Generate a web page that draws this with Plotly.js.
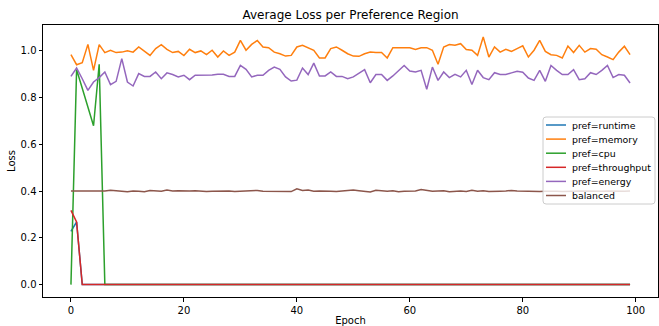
<!DOCTYPE html>
<html>
<head>
<meta charset="utf-8">
<script src="https://cdn.plot.ly/plotly-3.0.1.min.js"></script>
<style>html,body{margin:0;padding:0;background:#fff;}#chart{width:659px;height:326px;}</style>
</head>
<body>
<div id="chart"></div>
<script>
const seriesNames = ["pref=runtime","pref=memory","pref=cpu","pref=throughput","pref=energy","balanced"];
const seriesColors = ["#1f77b4","#ff7f0e","#2ca02c","#d62728","#9467bd","#8c564b"];

const runtime = [0.228,0.268,0,0,0,0,0,0,0,0, 0,0,0,0,0,0,0,0,0,0, 0,0,0,0,0,0,0,0,0,0, 0,0,0,0,0,0,0,0,0,0, 0,0,0,0,0,0,0,0,0,0, 0,0,0,0,0,0,0,0,0,0, 0,0,0,0,0,0,0,0,0,0, 0,0,0,0,0,0,0,0,0,0, 0,0,0,0,0,0,0,0,0,0, 0,0,0,0,0,0,0,0,0,0];
const memory = [0.984,0.941,0.950,1.028,0.917,1.027,0.993,1.003,0.993,0.995,
  1.001,0.995,1.017,1.000,0.981,1.010,1.027,1.007,0.993,0.998,
  0.980,1.007,0.993,1.000,0.984,1.003,0.974,1.000,0.981,0.995,
  1.045,1.003,1.028,1.045,1.017,1.014,0.995,0.988,0.978,0.981,
  1.017,1.024,1.013,1.003,0.970,0.970,1.010,1.017,1.003,0.988,
  0.978,0.977,0.988,0.995,0.993,0.993,0.970,1.014,1.014,1.014,
  1.014,1.006,1.014,1.014,1.003,0.943,1.017,1.027,1.024,1.031,
  1.006,1.003,0.981,1.060,0.974,1.017,0.995,1.007,0.998,1.010,
  1.022,0.974,1.003,1.045,0.998,0.984,0.981,0.970,1.021,0.993,
  1.024,0.995,1.010,1.007,0.984,0.974,0.963,0.995,1.020,0.984];
const cpu = [0,0.920,0.840,0.760,0.680,0.943,0,0,0,0, 0,0,0,0,0,0,0,0,0,0, 0,0,0,0,0,0,0,0,0,0, 0,0,0,0,0,0,0,0,0,0, 0,0,0,0,0,0,0,0,0,0, 0,0,0,0,0,0,0,0,0,0, 0,0,0,0,0,0,0,0,0,0, 0,0,0,0,0,0,0,0,0,0, 0,0,0,0,0,0,0,0,0,0, 0,0,0,0,0,0,0,0,0,0];
const throughput = [0.318,0.268,0,0,0,0,0,0,0,0, 0,0,0,0,0,0,0,0,0,0, 0,0,0,0,0,0,0,0,0,0, 0,0,0,0,0,0,0,0,0,0, 0,0,0,0,0,0,0,0,0,0, 0,0,0,0,0,0,0,0,0,0, 0,0,0,0,0,0,0,0,0,0, 0,0,0,0,0,0,0,0,0,0, 0,0,0,0,0,0,0,0,0,0, 0,0,0,0,0,0,0,0,0,0];
const energy = [0.891,0.927,0.881,0.831,0.867,0.886,0.910,0.856,0.870,0.967,
  0.867,0.850,0.903,0.891,0.891,0.910,0.881,0.906,0.899,0.889,
  0.896,0.877,0.896,0.896,0.896,0.897,0.900,0.900,0.891,0.891,
  0.938,0.921,0.889,0.896,0.896,0.917,0.931,0.921,0.889,0.871,
  0.875,0.927,0.899,0.948,0.893,0.893,0.910,0.891,0.891,0.881,
  0.889,0.903,0.920,0.864,0.899,0.899,0.874,0.893,0.917,0.938,
  0.914,0.910,0.917,0.836,0.931,0.874,0.910,0.886,0.900,0.889,
  0.917,0.856,0.917,0.886,0.877,0.907,0.899,0.899,0.906,0.913,
  0.909,0.884,0.874,0.917,0.870,0.938,0.917,0.899,0.899,0.920,
  0.877,0.881,0.907,0.899,0.917,0.938,0.886,0.899,0.896,0.863];
const balanced = [0.401,0.401,0.400,0.399,0.401,0.398,0.401,0.404,0.403,0.400,
  0.397,0.401,0.400,0.397,0.403,0.401,0.400,0.405,0.401,0.402,
  0.400,0.401,0.402,0.400,0.398,0.400,0.401,0.400,0.401,0.399,
  0.400,0.402,0.400,0.403,0.400,0.399,0.401,0.400,0.399,0.398,
  0.410,0.403,0.405,0.400,0.401,0.402,0.400,0.399,0.400,0.401,
  0.405,0.402,0.398,0.396,0.404,0.401,0.400,0.402,0.397,0.400,
  0.400,0.401,0.407,0.403,0.400,0.401,0.402,0.397,0.400,0.401,
  0.399,0.404,0.400,0.402,0.399,0.398,0.400,0.401,0.403,0.401,
  0.400,0.401,0.398,0.399,0.400,0.401,0.400,0.399,0.401,0.400,
  0.401,0.400,0.399,0.401,0.400,0.401,0.400,0.401,0.400,0.401];

const seriesValues = [runtime, memory, cpu, throughput, energy, balanced];
const xTicks = [0,20,40,60,80,100];
const yTicks = [0.0,0.2,0.4,0.6,0.8,1.0];

const FONT = "DejaVu Sans, Liberation Sans, sans-serif";

const traces = seriesValues.map((vals, k) => ({
  type: "scatter", mode: "lines",
  x: vals.map((_, i) => i), y: vals,
  name: seriesNames[k],
  line: {color: seriesColors[k], width: 1.5},
  showlegend: false, hoverinfo: "skip"
}));

// plot area in pixels
const L = 43, R = 658, T = 25, B = 297;
const px = v => (v - L) / (R - L);
const py = v => (B - v) / (B - T);

const bx0 = px(543), bx1 = px(655), by0 = py(204), by1 = py(117);
const rx = 3 / (R - L), ry = 3 / (B - T);
const shapes = [{
  type: "path", xref: "paper", yref: "paper",
  path: `M ${bx0+rx},${by1} L ${bx1-rx},${by1} Q ${bx1},${by1} ${bx1},${by1-ry} L ${bx1},${by0+ry} Q ${bx1},${by0} ${bx1-rx},${by0} L ${bx0+rx},${by0} Q ${bx0},${by0} ${bx0},${by0+ry} L ${bx0},${by1-ry} Q ${bx0},${by1} ${bx0+rx},${by1} Z`,
  line: {color: "#cccccc", width: 1}, fillcolor: "rgba(255,255,255,0.8)", layer: "above"
}];
const annotations = [];
seriesNames.forEach((n, k) => {
  const yy = 125 + k * 14.1;
  shapes.push({type: "line", xref: "paper", yref: "paper",
    x0: px(546), x1: px(566), y0: py(yy), y1: py(yy),
    line: {color: seriesColors[k], width: 1.5}, layer: "above"});
  annotations.push({xref: "paper", yref: "paper", x: px(569.5), y: py(yy),
    xanchor: "left", yanchor: "middle", text: n, showarrow: false,
    font: {family: FONT, size: 9.4, color: "#000"}});
});

const layout = {
  width: 659, height: 326,
  margin: {l: L, r: 659 - R, t: T, b: 326 - B, pad: 0},
  paper_bgcolor: "#fff", plot_bgcolor: "#fff",
  font: {family: FONT, size: 10, color: "#000"},
  title: {text: "Average Loss per Preference Region", x: 0.5, xref: "paper",
    y: 1 - 15/326, yref: "container", yanchor: "middle",
    font: {family: FONT, size: 12, color: "#000"}},
  xaxis: {range: [-4.95, 103.95], tickvals: xTicks, ticks: "outside", ticklen: 3.5,
    tickcolor: "#000", showline: true, linecolor: "#000", linewidth: 1, mirror: true,
    showgrid: false, zeroline: false,
    title: {text: "Epoch", font: {family: FONT, size: 10, color: "#000"}, standoff: 2},
    tickfont: {family: FONT, size: 10, color: "#000"}},
  yaxis: {range: [-0.053, 1.111], tickvals: yTicks, tickformat: ".1f", ticks: "outside", ticklen: 3.5,
    tickcolor: "#000", showline: true, linecolor: "#000", linewidth: 1, mirror: true,
    showgrid: false, zeroline: false,
    title: {text: "Loss", font: {family: FONT, size: 10, color: "#000"}, standoff: 3},
    tickfont: {family: FONT, size: 10, color: "#000"}},
  shapes: shapes, annotations: annotations, showlegend: false
};

Plotly.newPlot("chart", traces, layout, {staticPlot: true, displayModeBar: false});
</script>
</body>
</html>
